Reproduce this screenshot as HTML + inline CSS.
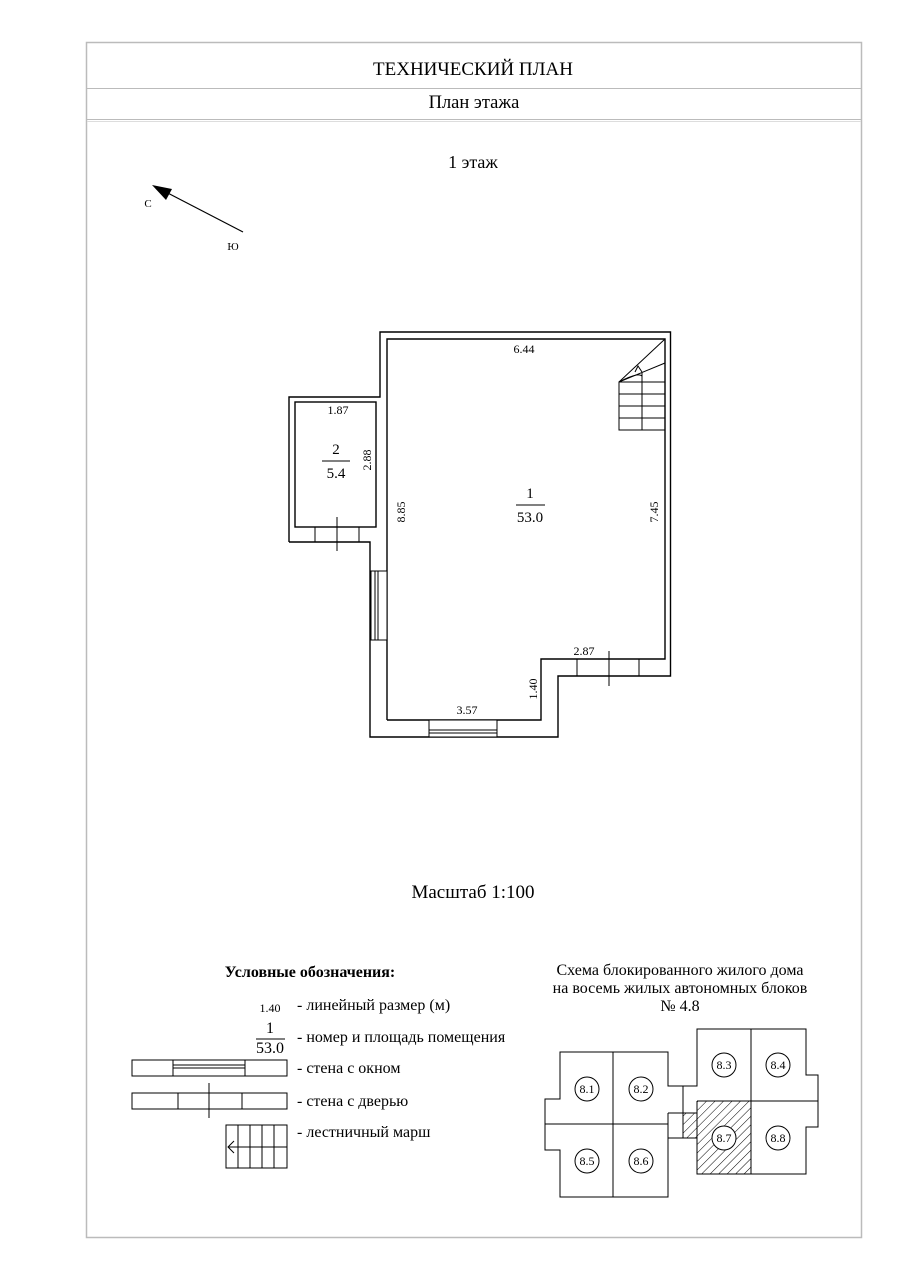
<!DOCTYPE html>
<html><head><meta charset="utf-8"><style>html,body{margin:0;padding:0;background:#fff}svg{display:block}</style></head><body>
<svg width="904" height="1280" viewBox="0 0 904 1280" xmlns="http://www.w3.org/2000/svg" font-family="Liberation Serif, serif" fill="none" stroke="#000">
<rect x="86.5" y="42.5" width="775" height="1195" stroke="#bbb" stroke-width="1.5"/>
<line x1="87" y1="88.5" x2="861" y2="88.5" stroke="#bbb"/>
<line x1="87" y1="119.5" x2="861" y2="119.5" stroke="#bbb"/>
<line x1="87" y1="121.5" x2="861" y2="121.5" stroke="#ddd"/>
<g fill="#000" stroke="none" text-anchor="middle">
<text x="473" y="75" font-size="19">ТЕХНИЧЕСКИЙ ПЛАН</text>
<text x="474" y="108" font-size="18.5">План этажа</text>
<text x="473" y="168" font-size="18">1 этаж</text>
<text x="148" y="207" font-size="11">С</text>
<text x="233" y="250" font-size="11">Ю</text>
<text x="473" y="898" font-size="19">Масштаб 1:100</text>
</g>
<line x1="243" y1="232" x2="160" y2="189" stroke-width="1.2"/>
<polygon points="152,185 172,189 166,200" fill="#000" stroke="none"/>

<g stroke-width="1.4">
<polyline points="289,542 289,397 380,397 380,332 670.5,332 670.5,676 558,676 558,737 370,737 370,542 289,542"/>
<polyline points="387,720 387,339 665,339 665,659 541,659 541,720 387,720"/>
<rect x="295" y="402" width="81" height="125"/>
</g>
<g stroke-width="1">
<rect x="371" y="571" width="16" height="69" fill="#fff"/>
<line x1="375" y1="571" x2="375" y2="640"/><line x1="378" y1="571" x2="378" y2="640"/>
<rect x="429" y="720" width="68" height="17" fill="#fff"/>
<line x1="429" y1="730" x2="497" y2="730"/><line x1="429" y1="733" x2="497" y2="733"/>
<line x1="315" y1="527" x2="315" y2="542"/><line x1="359" y1="527" x2="359" y2="542"/>
<line x1="337" y1="517" x2="337" y2="551"/>
<line x1="577" y1="659" x2="577" y2="676"/><line x1="639" y1="659" x2="639" y2="676"/>
<line x1="609" y1="651" x2="609" y2="686"/>
<polyline points="665,430 619,430 619,382 665,382"/>
<line x1="619" y1="394" x2="665" y2="394"/><line x1="619" y1="406" x2="665" y2="406"/><line x1="619" y1="418" x2="665" y2="418"/>
<line x1="642" y1="372" x2="642" y2="430"/>
<line x1="619" y1="382" x2="665" y2="339"/>
<line x1="619" y1="382" x2="665" y2="363"/>
<path d="M619,382 Q638,372 642,376"/>
<polyline points="635,372 638,366 642,372"/>
</g>
<g fill="#000" stroke="none" text-anchor="middle" font-size="12">
<text x="524" y="353">6.44</text>
<text x="338" y="414">1.87</text>
<text x="336" y="454" font-size="15">2</text>
<text x="336" y="478" font-size="15">5.4</text>
<text x="530" y="498" font-size="15">1</text>
<text x="530" y="522" font-size="15">53.0</text>
<text x="584" y="655">2.87</text>
<text x="467" y="714">3.57</text>
<text transform="translate(371,460) rotate(-90)">2.88</text>
<text transform="translate(405,512) rotate(-90)">8.85</text>
<text transform="translate(658,512) rotate(-90)">7.45</text>
<text transform="translate(537,689) rotate(-90)">1.40</text>
</g>
<line x1="322" y1="461" x2="350" y2="461"/>
<line x1="516" y1="505" x2="545" y2="505"/>

<g fill="#000" stroke="none">
<text x="310" y="977" font-size="16" font-weight="bold" text-anchor="middle">Условные обозначения:</text>
<text x="270" y="1012" font-size="12" text-anchor="middle">1.40</text>
<text x="270" y="1033" font-size="16" text-anchor="middle">1</text>
<text x="270" y="1053" font-size="16" text-anchor="middle">53.0</text>
<g font-size="16">
<text x="297" y="1010">- линейный размер (м)</text>
<text x="297" y="1042">- номер и площадь помещения</text>
<text x="297" y="1073">- стена с окном</text>
<text x="297" y="1106">- стена с дверью</text>
<text x="297" y="1137">- лестничный марш</text>
</g>
</g>
<g stroke-width="1">
<line x1="256" y1="1039" x2="285" y2="1039"/>
<rect x="132" y="1060" width="155" height="16"/>
<line x1="173" y1="1060" x2="173" y2="1076"/><line x1="245" y1="1060" x2="245" y2="1076"/>
<line x1="173" y1="1065" x2="245" y2="1065"/><line x1="173" y1="1068" x2="245" y2="1068"/>
<rect x="132" y="1093" width="155" height="16"/>
<line x1="178" y1="1093" x2="178" y2="1109"/><line x1="242" y1="1093" x2="242" y2="1109"/>
<line x1="209" y1="1083" x2="209" y2="1118"/>
<rect x="226" y="1125" width="61" height="43"/>
<line x1="238" y1="1125" x2="238" y2="1168"/><line x1="250" y1="1125" x2="250" y2="1168"/><line x1="262" y1="1125" x2="262" y2="1168"/><line x1="274" y1="1125" x2="274" y2="1168"/>
<line x1="228" y1="1147" x2="287" y2="1147"/>
<polyline points="234,1141 228,1147 234,1153"/>
</g>

<g fill="#000" stroke="none" text-anchor="middle" font-size="16">
<text x="680" y="975">Схема блокированного жилого дома</text>
<text x="680" y="993">на восемь жилых автономных блоков</text>
<text x="680" y="1011">№ 4.8</text>
</g>
<defs><pattern id="h" width="6" height="6" patternUnits="userSpaceOnUse" patternTransform="rotate(45)"><line x1="0" y1="0" x2="0" y2="6" stroke="#000" stroke-width="1"/></pattern></defs>
<polygon points="697,1101 751,1101 751,1174 697,1174 697,1138 683,1138 683,1113 697,1113" fill="url(#h)" stroke="none"/>
<g stroke-width="1">
<polyline points="668,1113 668,1197 560,1197 560,1150 545,1150 545,1099 560,1099 560,1052 668,1052 668,1086 697,1086 697,1029 806,1029 806,1075 818,1075 818,1127 806,1127 806,1174 697,1174 697,1138 668,1138"/>
<line x1="683" y1="1086" x2="683" y2="1138"/>
<line x1="668" y1="1113" x2="697" y2="1113"/>
<line x1="697" y1="1101" x2="697" y2="1138"/>
<line x1="613" y1="1052" x2="613" y2="1197"/>
<line x1="545" y1="1124" x2="668" y2="1124"/>
<line x1="751" y1="1029" x2="751" y2="1174"/>
<line x1="697" y1="1101" x2="818" y2="1101"/>
<g fill="#fff">
<circle cx="587" cy="1089" r="12"/><circle cx="641" cy="1089" r="12"/>
<circle cx="724" cy="1065" r="12"/><circle cx="778" cy="1065" r="12"/>
<circle cx="587" cy="1161" r="12"/><circle cx="641" cy="1161" r="12"/>
<circle cx="724" cy="1138" r="12"/><circle cx="778" cy="1138" r="12"/>
</g>
</g>
<g fill="#000" stroke="none" text-anchor="middle" font-size="12">
<text x="587" y="1093">8.1</text><text x="641" y="1093">8.2</text>
<text x="724" y="1069">8.3</text><text x="778" y="1069">8.4</text>
<text x="587" y="1165">8.5</text><text x="641" y="1165">8.6</text>
<text x="724" y="1142">8.7</text><text x="778" y="1142">8.8</text>
</g>
</svg>
</body></html>
